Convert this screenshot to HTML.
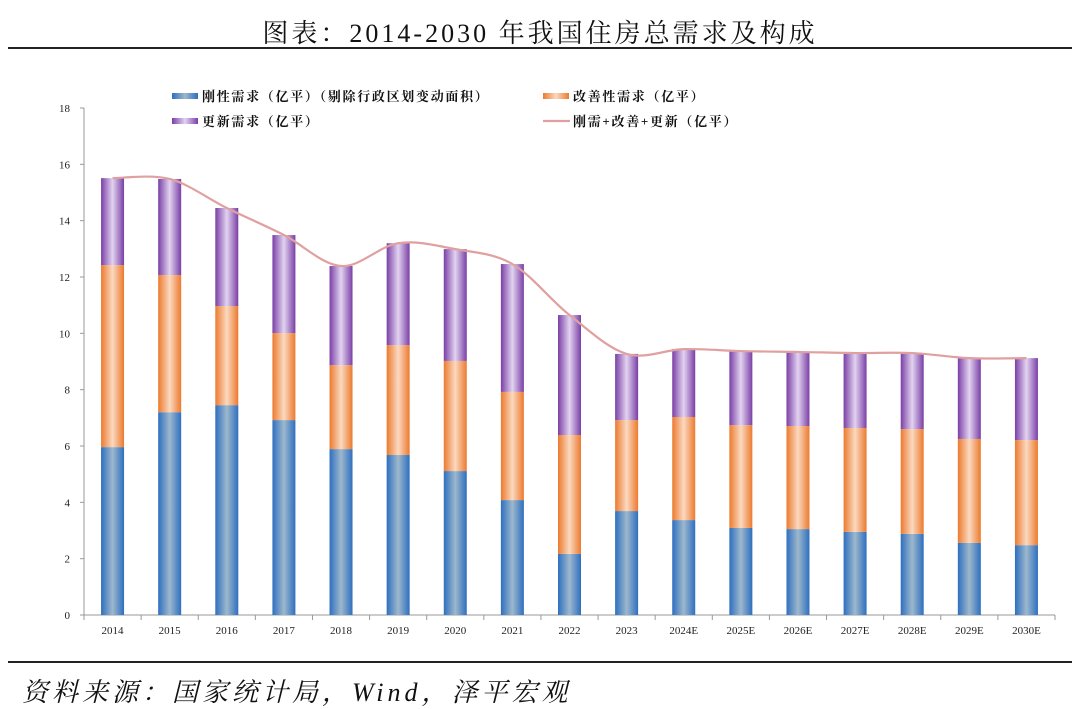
<!DOCTYPE html>
<html><head><meta charset="utf-8"><style>
body{margin:0;background:#fff;width:1080px;height:704px;overflow:hidden;position:relative;font-family:"Liberation Serif","Noto Serif CJK SC",serif}
#title{position:absolute;top:13px;left:0;width:1080px;text-align:center;font-size:26px;color:#111;letter-spacing:3px}
#src{position:absolute;top:672px;left:22px;font-size:26px;font-style:italic;color:#111;letter-spacing:4px}
.rule{position:absolute;left:8px;width:1064px;height:2px;background:#222}
</style></head><body>
<div id="title">图表：2014-2030 年我国住房总需求及构成</div>
<div class="rule" style="top:47px"></div>
<div class="rule" style="top:661px"></div>
<div id="src">资料来源：国家统计局，Wind，泽平宏观</div>
<svg id="chart" width="1080" height="704" style="position:absolute;left:0;top:0">
<defs>
<linearGradient id="gb" x1="0" x2="1"><stop offset="0" stop-color="#2e6fc0"/><stop offset="0.5" stop-color="#9db8cc"/><stop offset="1" stop-color="#2e6fc0"/></linearGradient>
<linearGradient id="go" x1="0" x2="1"><stop offset="0" stop-color="#ec7a2e"/><stop offset="0.5" stop-color="#fbd9c0"/><stop offset="1" stop-color="#ec7a2e"/></linearGradient>
<linearGradient id="gp" x1="0" x2="1"><stop offset="0" stop-color="#7a3fa6"/><stop offset="0.5" stop-color="#e2d3f0"/><stop offset="1" stop-color="#7a3fa6"/></linearGradient>
</defs>
</svg>
<script>
const categories=["2014","2015","2016","2017","2018","2019","2020","2021","2022","2023","2024E","2025E","2026E","2027E","2028E","2029E","2030E"];
const rigid=[5.96,7.2,7.45,6.92,5.89,5.68,5.11,4.08,2.17,3.69,3.37,3.09,3.05,2.95,2.88,2.56,2.48];
const improve=[6.46,4.87,3.52,3.09,2.98,3.9,3.91,3.84,4.22,3.23,3.66,3.65,3.66,3.69,3.72,3.69,3.73];
const renew=[3.09,3.41,3.48,3.48,3.52,3.62,3.97,4.54,4.26,2.35,2.41,2.63,2.63,2.66,2.7,2.87,2.91];
const yTicks=[0,2,4,6,8,10,12,14,16,18];
const NS="http://www.w3.org/2000/svg";
const svg=document.getElementById('chart');
const x0=84,x1=1055,yb=615,yt=108,ymax=18;
const step=(x1-x0)/categories.length;
const X=i=>x0+step*(i+0.5);
const Y=v=>yb-(v/ymax)*(yb-yt);
function mk(tag,attrs,parent){const e=document.createElementNS(NS,tag);for(const k in attrs)e.setAttribute(k,attrs[k]);(parent||svg).appendChild(e);return e;}
let a=mk('line',{x1:x0,y1:yt,x2:x0,y2:yb,stroke:'#999'});


a=mk('line',{x1:x0,y1:yb,x2:x1,y2:yb,stroke:'#999'});


yTicks.forEach(v=>{
  mk('line',{x1:x0-4,y1:Y(v),x2:x0,y2:Y(v),stroke:'#999'});
  const t=mk('text',{x:x0-14,y:Y(v)+4,'text-anchor':'end','font-size':11,fill:'#222'});
  t.textContent=v;
  
  
});
for(let i=0;i<=categories.length;i++)mk('line',{x1:x0+step*i,y1:yb,x2:x0+step*i,y2:yb+5,stroke:'#999'});
const bw=23;
categories.forEach((c,i)=>{
  const t=mk('text',{x:X(i),y:634,'text-anchor':'middle','font-size':11,fill:'#222'});
  t.textContent=c;
  
  
  let base=0;
  [[rigid,'gb','bar-rigid'],[improve,'go','bar-improve'],[renew,'gp','bar-renew']].forEach(([arr,g,n])=>{
    const r=mk('rect',{x:X(i)-bw/2,y:Y(base+arr[i]),width:bw,height:Y(base)-Y(base+arr[i]),fill:'url(#'+g+')'});
    
    
    base+=arr[i];
  });
});
const pts=categories.map((c,i)=>[X(i),Y(rigid[i]+improve[i]+renew[i])]);
let d='M'+pts[0][0]+','+pts[0][1];
for(let i=0;i<pts.length-1;i++){
  const p0=pts[Math.max(0,i-1)],p1=pts[i],p2=pts[i+1],p3=pts[Math.min(pts.length-1,i+2)];
  const k=1/6;
  d+=' C'+(p1[0]+(p2[0]-p0[0])*k)+','+(p1[1]+(p2[1]-p0[1])*k)+' '+(p2[0]-(p3[0]-p1[0])*k)+','+(p2[1]-(p3[1]-p1[1])*k)+' '+p2[0]+','+p2[1];
}
const ln=mk('path',{d:d,fill:'none',stroke:'#e0a0a0','stroke-width':2.2});


const leg=[[172,96,'gb','刚性需求（亿平）（剔除行政区划变动面积）'],[543,96,'go','改善性需求（亿平）'],[172,121,'gp','更新需求（亿平）']];
leg.forEach(([lx,ly,g,txt])=>{
  const r=mk('rect',{x:lx,y:ly-3,width:26,height:6,fill:'url(#'+g+')'});
  
  
  const t=mk('text',{x:lx+30,y:ly+5,'font-size':13,'font-weight':'bold',fill:'#111','letter-spacing':1.7});
  t.textContent=txt;
  
  
});
const ll=mk('line',{x1:543,y1:121,x2:570,y2:121,stroke:'#e0a0a0','stroke-width':2.2});


const lt=mk('text',{x:573,y:126,'font-size':13,'font-weight':'bold',fill:'#111','letter-spacing':1.7});
lt.textContent='刚需+改善+更新（亿平）';


</script>
</body></html>
